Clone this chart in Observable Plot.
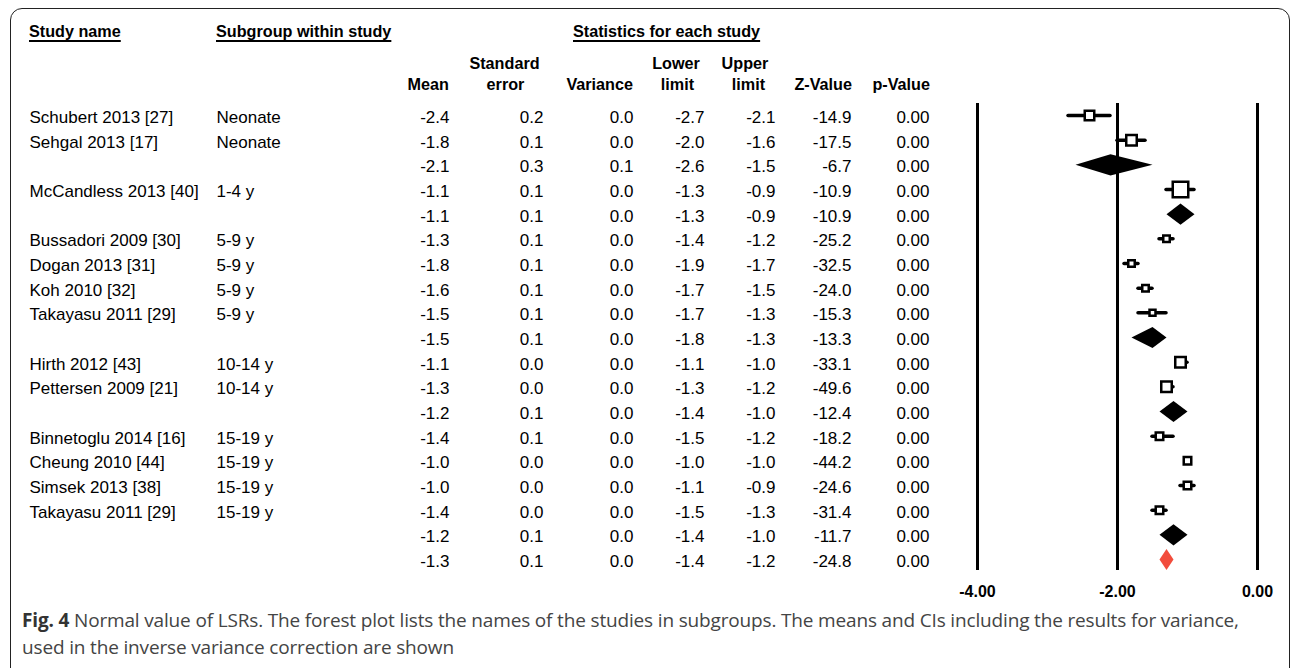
<!DOCTYPE html>
<html>
<head>
<meta charset="utf-8">
<script src="https://cdn.jsdelivr.net/npm/d3@7"></script>
<script src="https://cdn.jsdelivr.net/npm/@observablehq/plot@0.6"></script>
<style>
  html, body { margin: 0; padding: 0; background: #fff; }
  body { width: 1292px; height: 668px; position: relative; overflow: hidden; }
  #frame {
    position: absolute; left: 10px; top: 8px; width: 1280px; height: 680px;
    box-sizing: border-box; border: 1.5px solid #222; border-radius: 12px;
  }
  #chart { position: absolute; left: 0; top: 0; }
  .hdr {
    position: absolute; font: bold 16.2px "Liberation Sans", Arial, sans-serif;
    line-height: 20px; white-space: nowrap; color: #000;
  }
  .hdr.ul {
    text-decoration: underline; text-underline-offset: 3px; text-decoration-thickness: 1.5px;
  }
  #caption {
    position: absolute; left: 22px; top: 607px; width: 1260px;
    font: 19px "Open Sans", sans-serif; line-height: 27px; color: #444;
    letter-spacing: -0.16px; white-space: nowrap;
  }
  #caption b { color: #333; }
</style>
</head>
<body>
<div id="frame"></div>
<div id="chart"></div>
<div id="caption"><b>Fig. 4</b> Normal value of LSRs. The forest plot lists the names of the studies in subgroups. The means and CIs including the results for variance,<br>used in the inverse variance correction are shown</div>
<script>
// Study rows, top to bottom; empty names are subgroup / overall summary rows
const studyName = ["Schubert 2013 [27]", "Sehgal 2013 [17]", "", "McCandless 2013 [40]", "",
  "Bussadori 2009 [30]", "Dogan 2013 [31]", "Koh 2010 [32]", "Takayasu 2011 [29]", "",
  "Hirth 2012 [43]", "Pettersen 2009 [21]", "", "Binnetoglu 2014 [16]", "Cheung 2010 [44]",
  "Simsek 2013 [38]", "Takayasu 2011 [29]", "", ""];
const subgroup = ["Neonate", "Neonate", "", "1-4 y", "", "5-9 y", "5-9 y", "5-9 y", "5-9 y", "",
  "10-14 y", "10-14 y", "", "15-19 y", "15-19 y", "15-19 y", "15-19 y", "", ""];
const rowType = ["study", "study", "subtotal", "study", "subtotal", "study", "study", "study", "study",
  "subtotal", "study", "study", "subtotal", "study", "study", "study", "study", "subtotal", "overall"];
const mean = [-2.4, -1.8, -2.1, -1.1, -1.1, -1.3, -1.8, -1.6, -1.5, -1.5, -1.1, -1.3, -1.2, -1.4, -1.0, -1.0, -1.4, -1.2, -1.3];
const stdError = [0.2, 0.1, 0.3, 0.1, 0.1, 0.1, 0.1, 0.1, 0.1, 0.1, 0.0, 0.0, 0.1, 0.1, 0.0, 0.0, 0.0, 0.1, 0.1];
const variance = [0.0, 0.0, 0.1, 0.0, 0.0, 0.0, 0.0, 0.0, 0.0, 0.0, 0.0, 0.0, 0.0, 0.0, 0.0, 0.0, 0.0, 0.0, 0.0];
const lowerLimit = [-2.7, -2.0, -2.6, -1.3, -1.3, -1.4, -1.9, -1.7, -1.7, -1.8, -1.1, -1.3, -1.4, -1.5, -1.0, -1.1, -1.5, -1.4, -1.4];
const upperLimit = [-2.1, -1.6, -1.5, -0.9, -0.9, -1.2, -1.7, -1.5, -1.3, -1.3, -1.0, -1.2, -1.0, -1.2, -1.0, -0.9, -1.3, -1.0, -1.2];
const zValue = [-14.9, -17.5, -6.7, -10.9, -10.9, -25.2, -32.5, -24.0, -15.3, -13.3, -33.1, -49.6, -12.4, -18.2, -44.2, -24.6, -31.4, -11.7, -24.8];
const pValue = [0, 0, 0, 0, 0, 0, 0, 0, 0, 0, 0, 0, 0, 0, 0, 0, 0, 0, 0];
// relative weight (%) of each study, shown by the square's area
const weight = [8.6, 10.5, null, 22.9, null, 4.0, 4.0, 4.0, 3.4, null, 10.5, 10.5, null, 5.4, 5.4, 5.4, 5.4, null, null];

// axis ticks of the forest panel
const axisTicks = [-4, -2, 0];

// table headers
const topHeaders = ["Study name", "Subgroup within study", "Statistics for each study"];
const columnHeaders = [["Mean"], ["Standard", "error"], ["Variance"], ["Lower", "limit"], ["Upper", "limit"], ["Z-Value"], ["p-Value"]];

const rows = mean.map((m, i) => ({
  row: i, name: studyName[i], subgroup: subgroup[i], type: rowType[i],
  mean: m, se: stdError[i], variance: variance[i], lower: lowerLimit[i], upper: upperLimit[i],
  z: zValue[i], p: pValue[i], weight: weight[i]
}));
const studies = rows.filter(d => d.type === "study");

// diamond outline for summary rows: lower limit, mean, upper limit
const HALF = 0.43;
const diamonds = rows.filter(d => d.type !== "study").flatMap(d => [
  {row: d.row, type: d.type, x: d.lower, y: d.row},
  {row: d.row, type: d.type, x: d.mean, y: d.row - HALF},
  {row: d.row, type: d.type, x: d.upper, y: d.row},
  {row: d.row, type: d.type, x: d.mean, y: d.row + HALF}
]);

// table column layout (pixel offset from the left edge, alignment, formatter)
const f1 = v => v.toFixed(1), f2 = v => v.toFixed(2);
const tableCols = [
  {at: 29, anchor: "start", text: d => d.name},
  {at: 216, anchor: "start", text: d => d.subgroup},
  {at: 449, anchor: "end", text: d => f1(d.mean)},
  {at: 543, anchor: "end", text: d => f1(d.se)},
  {at: 633, anchor: "end", text: d => f1(d.variance)},
  {at: 704, anchor: "end", text: d => f1(d.lower)},
  {at: 775, anchor: "end", text: d => f1(d.upper)},
  {at: 851, anchor: "end", text: d => f1(d.z)},
  {at: 929, anchor: "end", text: d => f2(d.p)}
];

const W = 1292, H = 610;
const chart = Plot.plot({
  width: W, height: H,
  marginLeft: 0, marginRight: 0, marginTop: 103, marginBottom: 40,
  style: {fontFamily: "'Liberation Sans', Arial, sans-serif", fontSize: "17px", color: "#000", background: "transparent", overflow: "visible"},
  x: {domain: [-4, 0], range: [977, 1257]},
  y: {domain: [0, 18], range: [115, 559], axis: null},
  r: {type: "sqrt", domain: [0, 22.9], range: [0, 8.75]},
  marks: [
    Plot.ruleX(axisTicks, {stroke: "#000", strokeWidth: 3}),
    Plot.ruleY(studies, {y: "row", x1: "lower", x2: "upper", stroke: "#000", strokeWidth: 3.5, strokeLinecap: "round"}),
    Plot.dot(studies, {x: "mean", y: "row", r: "weight", symbol: "square", fill: "#fff", stroke: "#000", strokeWidth: 2.5}),
    Plot.line(diamonds.filter(d => d.type === "subtotal"), {x: "x", y: "y", z: "row", curve: "linear-closed", fill: "#000", stroke: "none"}),
    Plot.line(diamonds.filter(d => d.type === "overall"), {x: "x", y: "y", z: "row", curve: "linear-closed", fill: "#f24c3c", stroke: "none"}),
    ...tableCols.map(c => Plot.text(rows, {
      y: "row", text: c.text, frameAnchor: "left", dx: c.at, dy: 2,
      textAnchor: c.anchor, lineAnchor: "middle", fontSize: 17, fill: "#000"
    })),
    Plot.axisX({ticks: axisTicks, tickFormat: f2, tickSize: 0, tickPadding: 15, fontSize: 16, fontWeight: "bold", label: null})
  ]
});
document.getElementById("chart").appendChild(chart);

// headers, placed as HTML above the table body
const body = document.body;
function header(text, x, cy, align, underline) {
  const el = document.createElement("div");
  el.className = "hdr" + (underline ? " ul" : "");
  el.textContent = text;
  el.style.top = (cy - 10) + "px";
  el.style.left = x + "px";
  el.style.transform = align === "center" ? "translateX(-50%)" : align === "right" ? "translateX(-100%)" : "none";
  body.appendChild(el);
}
const topHeaderX = [29, 216, 573];
topHeaders.forEach((t, i) => header(t, topHeaderX[i], 31, "left", true));

// each header: anchor x and alignment for its lines (two-line headers sit on rows 63 / 84)
const colHeaderLayout = [
  {xs: [449], align: "right"},
  {xs: [504.5, 505.5], align: "center"},
  {xs: [633], align: "right"},
  {xs: [676, 677.5], align: "center"},
  {xs: [745, 748.5], align: "center"},
  {xs: [852], align: "right"},
  {xs: [930], align: "right"}
];
columnHeaders.forEach((lines, i) => {
  const lay = colHeaderLayout[i];
  lines.forEach((t, j) => {
    const cy = lines.length === 2 ? (j === 0 ? 63 : 84) : 84;
    header(t, lay.xs[j], cy, lay.align, false);
  });
});
</script>
</body>
</html>
